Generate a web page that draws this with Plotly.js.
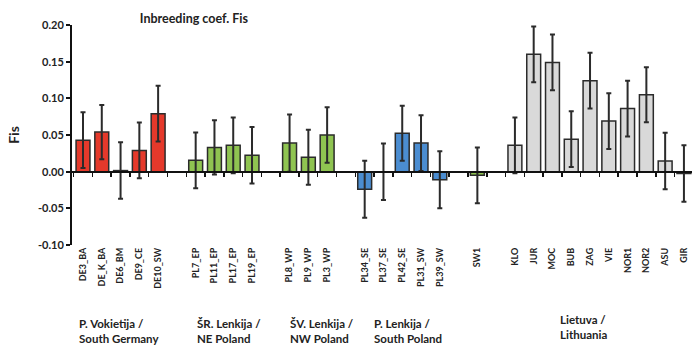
<!DOCTYPE html>
<html><head><meta charset="utf-8">
<script src="https://cdn.plot.ly/plotly-3.0.1.min.js"></script>
<style>html,body{margin:0;padding:0;background:#fff}#chart{width:692px;height:346px}</style>
</head><body><div id="chart"></div>
<script>
// slot index of each population (empty slots separate the groups)
const slots = [0,1,2,3,4, 6,7,8,9, 11,12,13, 15,16,17,18,19, 21, 23,24,25,26,27,28,29,30,31,32];
const labels = ["DE3_BA","DE_K_BA","DE6_BM","DE9_CE","DE10_SW",
  "PL7_EP","PL11_EP","PL17_EP","PL19_EP",
  "PL8_WP","PL9_WP","PL3_WP",
  "PL34_SE","PL37_SE","PL42_SE","PL31_SW","PL39_SW",
  "SW1",
  "KLO","JUR","MOC","BUB","ZAG","VIE","NOR1","NOR2","ASU","GIR"];
const fis = [0.043,0.054,0.0015,0.029,0.079,
  0.0155,0.033,0.036,0.0225,
  0.039,0.0195,0.050,
  -0.024,0.000,0.0525,0.039,-0.011,
  -0.005,
  0.036,0.160,0.149,0.0443,0.124,0.069,0.086,0.105,0.0145,-0.0025];
const err = [0.038,0.037,0.0385,0.038,0.038,
  0.038,0.037,0.038,0.0385,
  0.039,0.0375,0.038,
  0.039,0.0385,0.0375,0.038,0.039,
  0.038,
  0.038,0.038,0.038,0.038,0.038,0.038,0.038,0.0375,0.0385,0.0385];
const groupOf = [0,0,0,0,0, 1,1,1,1, 1,1,1, 2,2,2,2,2, 1, 3,3,3,3,3,3,3,3,3,3];
const groupColors = ["#e5392b","#8fc451","#4b8dd1","#d9d9d9"];
const groupNames = [
  {text:"P. Vokietija /<br>South Germany", x:-0.32},
  {text:"ŠR. Lenkija /<br>NE Poland", x:5.96},
  {text:"ŠV. Lenkija /<br>NW Poland", x:10.92},
  {text:"P. Lenkija /<br>South Poland", x:15.39},
  {text:"Lietuva /<br>Lithuania", x:25.29}
];
const yTicks = [-0.10,-0.05,0.00,0.05,0.10,0.15,0.20];

const bold = {family:"Lato, 'Open Sans', sans-serif", color:"#222", weight:"bold"};
const halfTicks = [];
for (let i = -0.5; i <= 32.5; i += 1) halfTicks.push(i);

const traces = [{
  type:"bar", x:slots, y:fis, width:0.74,
  marker:{color:groupOf.map(g=>groupColors[g]), line:{color:"#2b2b2b", width:1.5}},
  error_y:{type:"data", array:err, visible:true, color:"#2b2b2b", thickness:2, width:2.5},
  hoverinfo:"x+y", showlegend:false
},{
  type:"scatter", x:[], y:[], xaxis:"x2", showlegend:false
}];

const layout = {
  width:692, height:346,
  margin:{l:72, r:0, t:25, b:101},
  paper_bgcolor:"#fff", plot_bgcolor:"#fff",
  title:{text:"Inbreeding coef. Fis", x:0.202, xanchor:"left", y:0.945, yanchor:"middle",
    font:Object.assign({}, bold, {size:12.5})},
  xaxis:{range:[-0.586,32.43], tickmode:"array", tickvals:slots, ticktext:labels,
    tickangle:-90, tickfont:Object.assign({}, bold, {size:9}), ticks:"", showline:false,
    showgrid:false, zeroline:false, fixedrange:true},
  xaxis2:{overlaying:"x", matches:"x", anchor:"free", position:1/3, showline:true,
    linecolor:"#111", linewidth:2, ticks:"outside", ticklen:4, tickwidth:1.5, tickcolor:"#111",
    tickmode:"array", tickvals:halfTicks, showticklabels:false, showgrid:false, zeroline:false},
  yaxis:{range:[-0.10,0.20], tickmode:"array", tickvals:yTicks,
    ticktext:yTicks.map(v=>v.toFixed(2)), showline:true, linecolor:"#111", linewidth:2,
    ticks:"outside", ticklen:4, tickwidth:2, tickcolor:"#111",
    tickfont:Object.assign({}, bold, {size:11}), showgrid:false, zeroline:false,
    title:{text:"Fis", font:Object.assign({}, bold, {size:14}), standoff:15}},
  annotations:groupNames.map((g,i)=>({
    text:g.text, x:g.x, xref:"x", xanchor:"left", yref:"paper",
    y: i===4 ? -0.373 : -0.389, yanchor:"middle", align:"left", showarrow:false,
    font:Object.assign({}, bold, {size:11.5})
  }))
};
Plotly.newPlot("chart", traces, layout, {staticPlot:true, displayModeBar:false});
</script></body></html>
